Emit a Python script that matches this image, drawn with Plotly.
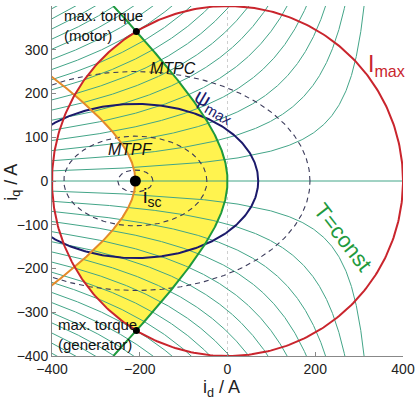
import numpy as np
import plotly.graph_objects as go

# ---- values (currents in A) ----
i_max = 400                      # current limit circle radius
id_sc = -210                     # short-circuit current (centre of flux ellipses)
id_asym = 355                    # vertical asymptote of T=const hyperbolas
saliency = 1.59                  # Lq/Ld (ellipse axis ratio)
torque_levels = [17500, 35000, 52500, 70000, 87500, 105000, 122500, 140000,
                 157500, 175000, 192500, 210000, 227500, 245000, 262500,
                 280000, 297500]  # iq*(id_asym-id) along each T=const line
flux_max = 280                   # psi_max ellipse (semi-axis along id)
flux_dashed = [40, 163, 398]     # dashed flux ellipses
x_ticks = [-400, -200, 0, 200, 400]
y_ticks = [-400, -300, -200, -100, 0, 100, 200, 300, 400]

FONT = "Liberation Sans, Arial, sans-serif"
TEAL = "#43a588"
RED = "#c9252d"
NAVY = "#1b1a6b"
GREEN = "#1f9a3e"
ORANGE = "#e48a2a"
YELLOW = "#fff34f"
DASH = "#3a3a5a"

fig = go.Figure()

# ---- MTPA curve ----
iq_mtpa = np.linspace(-400, 400, 401)
id_mtpa = (id_asym - np.sqrt(id_asym**2 + 4 * iq_mtpa**2)) / 2
id_pk = (id_asym - np.sqrt(id_asym**2 + 8 * i_max**2)) / 4
iq_pk = np.sqrt(i_max**2 - id_pk**2)

# ---- MTPF curve ----
R = np.linspace(0, 460, 600)
b = id_asym - id_sc
c = (b - np.sqrt(b**2 + 8 * R**2)) / np.where(R > 0, 4 * R, 1)
c = np.where(R > 0, c, 0)
s = np.sqrt(1 - c**2)
id_mtpf = R * c + id_sc
iq_mtpf = R * s / saliency
k = np.argmin(np.abs(np.hypot(id_mtpf, iq_mtpf) - i_max))
id_x, iq_x = id_mtpf[k], iq_mtpf[k]

# ---- yellow operating region ----
th_pk = np.arctan2(iq_pk, id_pk)
th_x = np.arctan2(iq_x, id_x)
m_iq = np.linspace(iq_pk, -iq_pk, 300)
m_id = (id_asym - np.sqrt(id_asym**2 + 4 * m_iq**2)) / 2
arc_lo = np.linspace(-th_pk, -th_x, 60)
arc_hi = np.linspace(th_x, th_pk, 60)
f_id = np.concatenate([id_mtpf[:k + 1][::-1], id_mtpf[1:k + 1]])
f_iq = np.concatenate([-iq_mtpf[:k + 1][::-1], iq_mtpf[1:k + 1]])
poly_x = np.concatenate([m_id, i_max * np.cos(arc_lo), f_id, i_max * np.cos(arc_hi)])
poly_y = np.concatenate([m_iq, i_max * np.sin(arc_lo), f_iq, i_max * np.sin(arc_hi)])
fig.add_trace(go.Scatter(x=poly_x, y=poly_y, mode="lines", fill="toself",
                         fillcolor=YELLOW, line=dict(width=0), hoverinfo="skip"))

# ---- constant torque lines ----
for K in torque_levels:
    xs = np.linspace(-400, id_asym - K / 410, 300)
    q = np.linspace(K / (id_asym + 400), 410, 300)
    xs = np.sort(np.concatenate([xs, id_asym - K / q]))
    ys = K / (id_asym - xs)
    for sg in (1, -1):
        fig.add_trace(go.Scatter(x=xs, y=sg * ys, mode="lines",
                                 line=dict(color=TEAL, width=1), hoverinfo="skip"))
fig.add_trace(go.Scatter(x=[-400, i_max], y=[0, 0], mode="lines",
                         line=dict(color=TEAL, width=1), hoverinfo="skip"))

# ---- flux ellipses ----
t = np.linspace(0, 2 * np.pi, 400)
for F in flux_dashed:
    fig.add_trace(go.Scatter(x=id_sc + F * np.cos(t), y=F / saliency * np.sin(t),
                             mode="lines", line=dict(color=DASH, width=1.1, dash="5px,4px"),
                             hoverinfo="skip"))
fig.add_trace(go.Scatter(x=id_sc + flux_max * np.cos(t), y=flux_max / saliency * np.sin(t),
                         mode="lines", line=dict(color=NAVY, width=2), hoverinfo="skip"))

# ---- MTPF (orange) ----
fig.add_trace(go.Scatter(x=np.concatenate([id_mtpf[::-1], id_mtpf[1:]]),
                         y=np.concatenate([-iq_mtpf[::-1], iq_mtpf[1:]]),
                         mode="lines", line=dict(color=ORANGE, width=2), hoverinfo="skip"))
# ---- MTPA (green) ----
fig.add_trace(go.Scatter(x=id_mtpa, y=iq_mtpa, mode="lines",
                         line=dict(color=GREEN, width=2), hoverinfo="skip"))
# ---- current limit circle ----
fig.add_trace(go.Scatter(x=i_max * np.cos(t), y=i_max * np.sin(t), mode="lines",
                         line=dict(color=RED, width=2), hoverinfo="skip"))
# ---- points ----
fig.add_trace(go.Scatter(x=[id_pk, id_pk], y=[iq_pk, -iq_pk], mode="markers",
                         marker=dict(color="black", size=7), hoverinfo="skip"))
fig.add_trace(go.Scatter(x=[id_sc], y=[0], mode="markers",
                         marker=dict(color="black", size=11), hoverinfo="skip"))

fig.add_shape(type="line", x0=0, x1=0, y0=-400, y1=400, xref="x", yref="y",
              line=dict(color="#cfcfcf", width=1, dash="dot"), layer="below")

ann = [
    dict(x=-378, y=356, text="max. torque<br>(motor)", xanchor="left", align="left",
         font=dict(size=15, color="#111")),
    dict(x=-390, y=-350, text="max. torque<br>(generator)", xanchor="left", align="left",
         font=dict(size=15, color="#111")),
    dict(x=-124, y=257, text="<i>MTPC</i>", font=dict(size=16, color="#111")),
    dict(x=-222, y=72, text="<i>MTPF</i>", font=dict(size=16, color="#111")),
    dict(x=-30, y=172, text="ψ<sub>max</sub>", textangle=30, font=dict(size=21, color=NAVY)),
    dict(x=362, y=263, text="I<sub>max</sub>", font=dict(size=23, color=RED)),
    dict(x=-173, y=-37, text="i<sub>sc</sub>", font=dict(size=20, color="#111")),
    dict(x=263, y=-130, text="T=const", textangle=52, font=dict(size=22, color=GREEN)),
]
for a in ann:
    a.update(xref="x", yref="y", showarrow=False)
    a["font"]["family"] = FONT
ann += [
    dict(x=0.484, y=-0.092, xref="paper", yref="paper", showarrow=False,
         xanchor="center", yanchor="middle",
         text="i<sub>d</sub> / A", font=dict(family=FONT, size=18, color="#222")),
    dict(x=-0.115, y=0.497, xref="paper", yref="paper", showarrow=False, textangle=-90,
         xanchor="center", yanchor="middle",
         text="i<sub>q</sub> / A", font=dict(family=FONT, size=18, color="#222")),
]
fig.update_layout(annotations=ann)

axis_common = dict(showgrid=False, zeroline=False, showline=True, linecolor="#888",
                   linewidth=1, ticks="inside", ticklen=4, tickcolor="#888",
                   tickfont=dict(family=FONT, size=14, color="#222"), mirror=False,
                   automargin=False)
fig.update_xaxes(range=[-400, 400], tickvals=x_ticks, **axis_common)
fig.update_yaxes(range=[-400, 400], tickvals=y_ticks, **axis_common)

fig.update_layout(width=416, height=399, showlegend=False,
                  margin=dict(l=52, r=13, t=6, b=43),
                  plot_bgcolor="white", paper_bgcolor="white")
fig.write_html("out.html", config={"displayModeBar": False},
               post_script="document.body.style.margin='0';document.body.style.overflow='hidden';")
